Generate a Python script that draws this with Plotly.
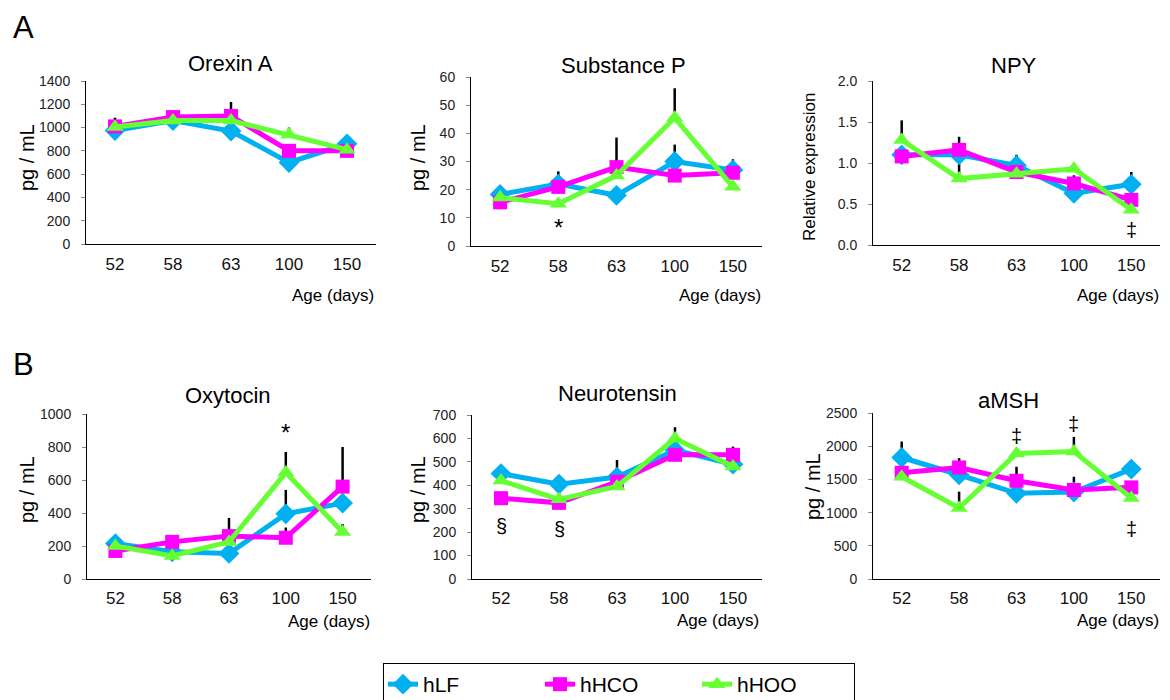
import plotly.graph_objects as go

# Browser body margin offsets the figure by 8px, compensate
OFF = 8
W, H = 1170 - OFF, 700 - OFF
FONT = "Liberation Sans, Arial, sans-serif"

ages = ["52", "58", "63", "100", "150"]
series_names = ["hLF", "hHCO", "hHOO"]
series_colors = ["#00B0F0", "#FF00FF", "#66FF33"]
series_symbols = ["diamond", "square", "triangle-up"]
series_sizes = [16, 14, 15]

# ---- data (means and upper error) ----
orexin_hLF = [975, 1060, 970, 700, 860]
orexin_hHCO = [1010, 1090, 1100, 800, 800]
orexin_hHOO = [1005, 1060, 1060, 940, 810]
orexin_err_hLF = [30, 40, 60, 40, 40]
orexin_err_hHCO = [75, 45, 120, 55, 30]
orexin_err_hHOO = [40, 40, 50, 60, 30]

subp_hLF = [18.3, 22, 18, 30, 27]
subp_hHCO = [15.5, 21, 28, 25, 26]
subp_hHOO = [17.2, 15, 25, 45.5, 21]
subp_err_hLF = [1.5, 4.5, 2, 6, 3.8]
subp_err_hHCO = [1, 3, 10.5, 2, 2]
subp_err_hHOO = [1, 1, 3, 10.5, 2]

npy_hLF = [1.10, 1.10, 0.97, 0.63, 0.74]
npy_hHCO = [1.08, 1.16, 0.89, 0.75, 0.55]
npy_hHOO = [1.28, 0.81, 0.87, 0.93, 0.43]
npy_err_hLF = [0.08, 0.10, 0.13, 0.10, 0.15]
npy_err_hHCO = [0.06, 0.16, 0.10, 0.10, 0.08]
npy_err_hHOO = [0.24, 0.18, 0.05, 0.06, 0.05]

oxy_hLF = [215, 165, 155, 395, 460]
oxy_hHCO = [170, 225, 260, 250, 560]
oxy_hHOO = [200, 140, 225, 645, 285]
oxy_err_hLF = [20, 20, 20, 145, 40]
oxy_err_hHCO = [20, 36, 110, 62, 240]
oxy_err_hHOO = [15, 15, 30, 125, 47]

nt_hLF = [450, 405, 435, 550, 490]
nt_hHCO = [345, 325, 415, 530, 530]
nt_hHOO = [420, 340, 395, 600, 480]
nt_err_hLF = [36, 32, 73, 40, 20]
nt_err_hHCO = [15, 15, 20, 20, 35]
nt_err_hHOO = [15, 29, 20, 48, 15]

amsh_hLF = [1830, 1570, 1290, 1310, 1655]
amsh_hHCO = [1600, 1680, 1480, 1340, 1380]
amsh_hHOO = [1540, 1070, 1890, 1920, 1220]
amsh_err_hLF = [240, 100, 80, 230, 135]
amsh_err_hHCO = [80, 140, 210, 100, 85]
amsh_err_hHOO = [60, 245, 80, 220, 40]

# significance marks: (panel index, age, y value, symbol)
sig_marks = [
    (1, "58", 6.5, "*"),
    (2, "150", 0.18, "‡"),
    (3, "100", 890, "*"),
    (4, "52", 225, "§"),
    (4, "58", 213, "§"),
    (5, "63", 2160, "‡"),
    (5, "100", 2340, "‡"),
    (5, "150", 750, "‡"),
]

panels = [
    dict(title="Orexin A", ytitle="pg / mL", yrange=[0, 1400], dtick=200, fmt="",
         means=[orexin_hLF, orexin_hHCO, orexin_hHOO],
         errs=[orexin_err_hLF, orexin_err_hHCO, orexin_err_hHOO],
         xpx=(86, 376), ypx=(81, 244), tpos=(230, 63), ypos=(27, 158), apos=(376, 295)),
    dict(title="Substance P", ytitle="pg / mL", yrange=[0, 60], dtick=10, fmt="",
         means=[subp_hLF, subp_hHCO, subp_hHOO],
         errs=[subp_err_hLF, subp_err_hHCO, subp_err_hHOO],
         xpx=(471, 762), ypx=(77, 246), tpos=(623, 65), ypos=(418, 158), apos=(763, 295)),
    dict(title="NPY", ytitle="Relative expression", yrange=[0, 2.0], dtick=0.5, fmt=".1f",
         means=[npy_hLF, npy_hHCO, npy_hHOO],
         errs=[npy_err_hLF, npy_err_hHCO, npy_err_hHOO],
         xpx=(873, 1160), ypx=(81, 245), tpos=(1014, 65), ypos=(809, 167), apos=(1161, 295)),
    dict(title="Oxytocin", ytitle="pg / mL", yrange=[0, 1000], dtick=200, fmt="",
         means=[oxy_hLF, oxy_hHCO, oxy_hHOO],
         errs=[oxy_err_hLF, oxy_err_hHCO, oxy_err_hHOO],
         xpx=(87, 371), ypx=(414, 579), tpos=(228, 395), ypos=(27, 490), apos=(372, 621)),
    dict(title="Neurotensin", ytitle="pg / mL", yrange=[0, 700], dtick=100, fmt="",
         means=[nt_hLF, nt_hHCO, nt_hHOO],
         errs=[nt_err_hLF, nt_err_hHCO, nt_err_hHOO],
         xpx=(472, 762), ypx=(415, 579), tpos=(617, 393), ypos=(418, 490), apos=(761, 620)),
    dict(title="aMSH", ytitle="pg / mL", yrange=[0, 2500], dtick=500, fmt="",
         means=[amsh_hLF, amsh_hHCO, amsh_hHOO],
         errs=[amsh_err_hLF, amsh_err_hHCO, amsh_err_hHOO],
         xpx=(873, 1160), ypx=(413, 579), tpos=(1008, 400), ypos=(813, 487), apos=(1161, 620)),
]


def fx(p):
    return (p - OFF) / W


def fy(p):
    return 1 - (p - OFF) / H


fig = go.Figure()
layout = {}
annotations = []

for i, pn in enumerate(panels):
    k = "" if i == 0 else str(i + 1)
    xa, ya = "x" + k, "y" + k
    x0, x1 = pn["xpx"]
    y0, y1 = pn["ypx"]
    layout["xaxis" + k] = dict(
        domain=[fx(x0), fx(x1)], anchor=ya, type="category",
        categoryorder="array", categoryarray=ages, range=[-0.5, 4.5],
        showline=True, linecolor="black", linewidth=1, mirror=False,
        ticks="outside", ticklen=5 if i < 3 else 4, tickcolor="rgba(0,0,0,0)",
        showgrid=False, zeroline=False, fixedrange=True,
        tickfont=dict(family=FONT, size=17, color="#111"),
    )
    layout["yaxis" + k] = dict(
        domain=[fy(y1), fy(y0)], anchor=xa, range=pn["yrange"], dtick=pn["dtick"],
        tick0=0, tickformat=pn["fmt"],
        showline=True, linecolor="black", linewidth=1,
        ticks="outside", ticklen=4, tickcolor="#888", ticklabelstandoff=8,
        showgrid=False, zeroline=False, fixedrange=True,
        tickfont=dict(family=FONT, size=14, color="#222"),
    )
    # error bars (drawn first, behind lines)
    for s in range(3):
        fig.add_trace(go.Scatter(
            x=ages, y=pn["means"][s], xaxis=xa, yaxis=ya, mode="markers",
            marker=dict(size=1, color="rgba(0,0,0,0)"), showlegend=False,
            hoverinfo="skip",
            error_y=dict(type="data", symmetric=False, array=pn["errs"][s],
                         arrayminus=[0] * len(ages), color="black",
                         thickness=2.5, width=0),
        ))
    for s in range(3):
        fig.add_trace(go.Scatter(
            x=ages, y=pn["means"][s], xaxis=xa, yaxis=ya, mode="lines+markers",
            name=series_names[s], legendgroup=series_names[s], showlegend=(i == 0),
            line=dict(color=series_colors[s], width=5),
            marker=dict(symbol=series_symbols[s], size=series_sizes[s],
                        color=series_colors[s]),
        ))
    # panel title
    annotations.append(dict(
        text=pn["title"], x=fx(pn["tpos"][0]), y=fy(pn["tpos"][1]), xref="paper",
        yref="paper", showarrow=False, xanchor="center", yanchor="middle",
        font=dict(family=FONT, size=22, color="black"),
    ))
    # y title
    yt_size = 17 if pn["ytitle"] == "Relative expression" else 20
    annotations.append(dict(
        text=pn["ytitle"], x=fx(pn["ypos"][0]), y=fy(pn["ypos"][1]),
        xref="paper", yref="paper", showarrow=False,
        textangle=-90, xanchor="center", yanchor="middle",
        font=dict(family=FONT, size=yt_size, color="black"),
    ))
    # x title
    annotations.append(dict(
        text="Age (days)", x=fx(pn["apos"][0]), y=fy(pn["apos"][1]), xref="paper",
        yref="paper", showarrow=False, xanchor="right", yanchor="middle",
        font=dict(family=FONT, size=17, color="black"),
    ))

for pidx, age, yv, sym in sig_marks:
    k = "" if pidx == 0 else str(pidx + 1)
    annotations.append(dict(
        text=sym, x=ages.index(age), y=yv, xref="x" + k, yref="y" + k, showarrow=False,
        font=dict(family=FONT, size=24 if sym == "*" else 20, color="black"),
    ))

# panel letters
annotations.append(dict(text="A", x=fx(11), y=fy(8), xref="paper", yref="paper",
                        showarrow=False, xanchor="left", yanchor="top",
                        font=dict(family=FONT, size=31, color="black")))
annotations.append(dict(text="B", x=fx(11), y=fy(364), xref="paper", yref="paper",
                        showarrow=False, xanchor="left", yanchor="middle",
                        font=dict(family=FONT, size=31, color="black")))

fig.update_layout(
    width=W, height=H, margin=dict(l=0, r=0, t=0, b=0, autoexpand=False),
    paper_bgcolor="white", plot_bgcolor="white",
    annotations=annotations,
    showlegend=True,
    legend=dict(orientation="h", x=fx(383), y=fy(663), xanchor="left", yanchor="top",
                bordercolor="black", borderwidth=1, bgcolor="white",
                font=dict(family=FONT, size=21, color="black"),
                entrywidth=112, itemsizing="trace", tracegroupgap=0),
    **layout,
)

fig.write_html("out.html")
